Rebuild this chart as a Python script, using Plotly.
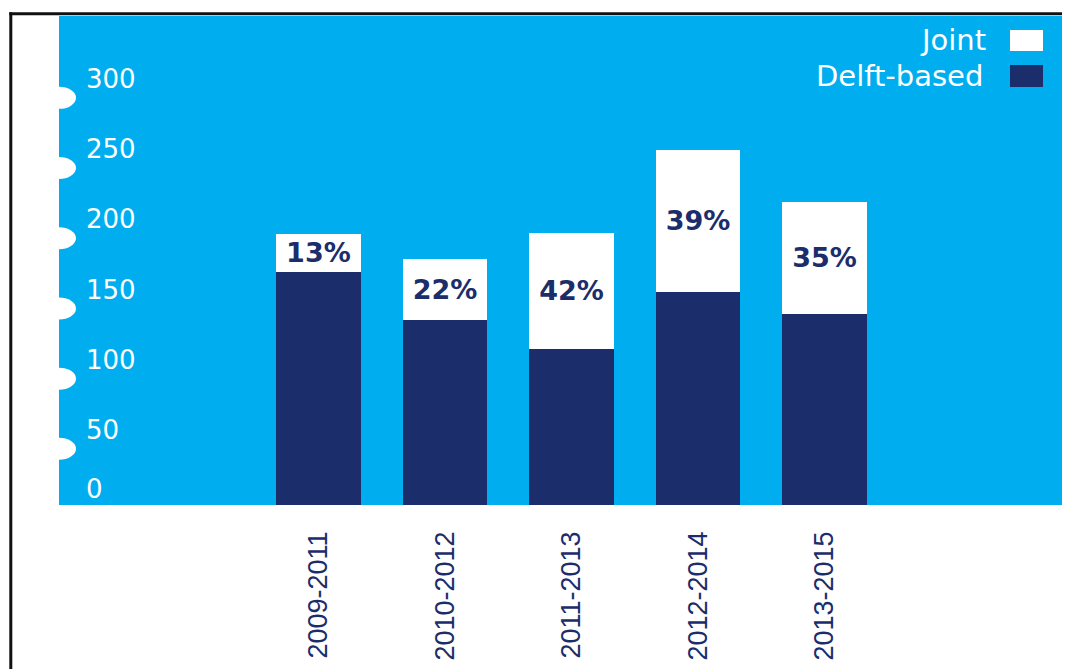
import plotly.graph_objects as go

# ---- data ----
periods = ["2009-2011", "2010-2012", "2011-2013", "2012-2014", "2013-2015"]
delft_based = [166, 132, 111, 152, 136]
joint = [27, 43, 83, 101, 80]
joint_share = ["13%", "22%", "42%", "39%", "35%"]
series_names = ["Joint", "Delft-based"]
y_ticks = [0, 50, 100, 150, 200, 250, 300]

# ---- style ----
BLUE = "#00AEEF"
NAVY = "#1C2D6B"
OFF = 8  # page body margin
W, H = 1070 - OFF, 669 - OFF
L, R, T, B = 59 - OFF, 5, 16 - OFF, 164
PW, PH = W - L - R, H - T - B


def px_x(p):
    return (p - OFF - L) / PW


def px_y(p):
    return (T + PH - (p - OFF)) / PH


fig = go.Figure()
fig.add_bar(x=periods, y=delft_based, name=series_names[1], marker_color=NAVY,
            marker_line_width=0, width=0.67)
fig.add_bar(x=periods, y=joint, name=series_names[0], marker_color="white",
            marker_line_width=0, width=0.67, text=joint_share,
            textposition="inside", insidetextanchor="middle", constraintext="none",
            textfont=dict(family="DejaVu Sans", size=27, color=NAVY, weight="bold"))
# empty helper trace so the secondary (baseline-label) axis is drawn
fig.add_scatter(x=[], y=[], yaxis="y2", mode="none", showlegend=False, hoverinfo="skip")

fig.update_layout(
    barmode="stack", width=W, height=H,
    margin=dict(l=L, r=R, t=T, b=B, pad=0),
    paper_bgcolor="white", plot_bgcolor=BLUE, showlegend=False,
)
fig.update_xaxes(type="category", range=[-2.05, 5.9], tickangle=-90,
                 tickfont=dict(family="Liberation Sans", size=27, color=NAVY),
                 ticks="", showgrid=False, showline=False, zeroline=False,
                 ticklabelstandoff=20)
fig.update_yaxes(range=[0, 348.3], tickvals=y_ticks[1:], ticktext=[str(v) for v in y_ticks[1:]],
                 ticklabelposition="inside", ticklabelshift=-5, ticklabelstandoff=24,
                 tickfont=dict(family="DejaVu Sans", size=26, color="white"),
                 ticks="", showgrid=False, showline=False, zeroline=False)
# the baseline label sits higher than the others
fig.update_layout(yaxis2=dict(overlaying="y", range=[0, 348.3], side="left", tickvals=y_ticks[:1],
                              ticktext=[str(y_ticks[0])], ticklabelposition="inside top",
                              ticklabelshift=2, ticklabelstandoff=24,
                              tickfont=dict(family="DejaVu Sans", size=26, color="white"),
                              ticks="", showgrid=False, showline=False, zeroline=False))

shapes = []
# white notch markers on the left edge
for v in y_ticks[1:]:
    shapes.append(dict(type="circle", xref="paper", xsizemode="pixel", xanchor=0,
                       x0=-17, x1=17, yref="y", ysizemode="pixel", yanchor=v - 10,
                       y0=-11, y1=11, fillcolor="white", line_width=0, layer="above"))
# frame lines
shapes.append(dict(type="line", xref="paper", yref="paper", x0=px_x(10.8), x1=px_x(10.8),
                   y0=px_y(669), y1=px_y(12.3), line=dict(color="#111111", width=3)))
shapes.append(dict(type="line", xref="paper", yref="paper", x0=px_x(9.3), x1=px_x(1075),
                   y0=px_y(13.8), y1=px_y(13.8), line=dict(color="#111111", width=3)))
# legend squares
shapes.append(dict(type="rect", xref="paper", yref="paper", x0=px_x(1010), x1=px_x(1043),
                   y0=px_y(51), y1=px_y(30), fillcolor="white", line_width=0))
shapes.append(dict(type="rect", xref="paper", yref="paper", x0=px_x(1010), x1=px_x(1043),
                   y0=px_y(87), y1=px_y(65), fillcolor=NAVY, line_width=0))
fig.update_layout(shapes=shapes)

annotations = [
    dict(text=series_names[0], xref="paper", yref="paper", x=px_x(988), y=px_y(40),
         xanchor="right", yanchor="middle", showarrow=False,
         font=dict(family="DejaVu Sans", size=29, color="white")),
    dict(text=series_names[1], xref="paper", yref="paper", x=px_x(985), y=px_y(76),
         xanchor="right", yanchor="middle", showarrow=False,
         font=dict(family="DejaVu Sans", size=29, color="white")),
]
fig.update_layout(annotations=annotations)

fig.write_html("out.html")
